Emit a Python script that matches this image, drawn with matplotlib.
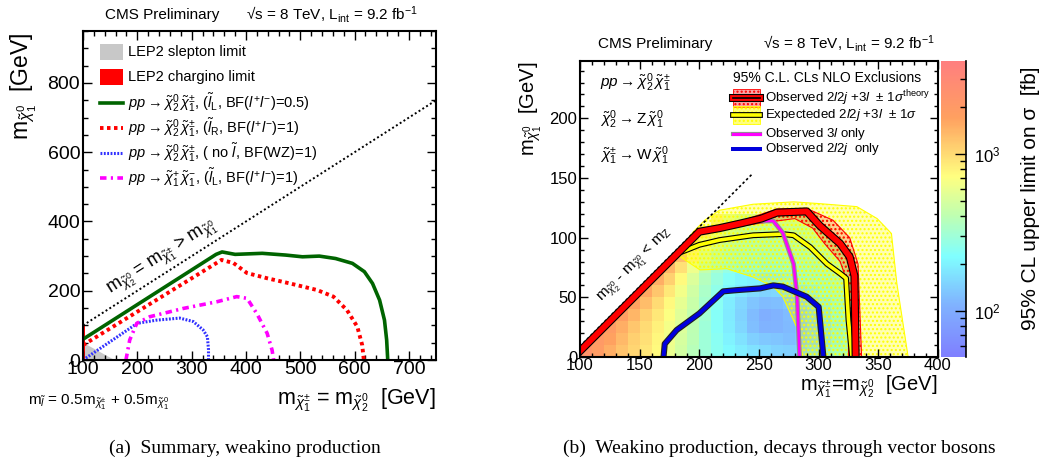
import numpy as np
import matplotlib
matplotlib.use("Agg")
import matplotlib.pyplot as plt
import matplotlib.patheffects as pe
from matplotlib.colors import LinearSegmentedColormap, LogNorm
from matplotlib.patches import Rectangle
from matplotlib.ticker import MultipleLocator, LogLocator, NullFormatter

plt.rcParams["font.family"] = ["Liberation Sans", "DejaVu Sans"]
plt.rcParams["mathtext.fontset"] = "custom"
plt.rcParams["mathtext.rm"] = "Liberation Sans"
plt.rcParams["mathtext.it"] = "Liberation Sans:italic"
plt.rcParams["mathtext.bf"] = "Liberation Sans:bold"

nan = np.nan

# ---------------- panel (a): summary ----------------
diag_x = [100, 750]
diag_y = [100, 750]

lep_slepton_x = [100, 100, 158]
lep_slepton_y = [0, 50, 0]
lep_chargino_x = [100, 103.5]
lep_chargino_top = 100

green_x = [100, 345, 356, 380, 430, 473, 504, 535, 565, 596, 618, 633, 646, 655, 659, 661]
green_y = [60, 305, 312, 305, 308, 303, 298, 300, 293, 279, 255, 221, 173, 115, 58, 0]

red_x = [100, 355, 377, 402, 439, 481, 531, 561, 586, 605, 614, 617]
red_y = [43, 289, 280, 251, 236, 221, 202, 183, 144, 96, 43, 0]

blue_x = [100, 200, 235, 278, 303, 321, 329, 331, 331]
blue_y = [0, 106, 115, 121, 111, 87, 67, 30, 0]

mag_x = [179, 186, 199, 223, 285, 346, 383, 402, 420, 439, 448, 451]
mag_y = [0, 58, 106, 125, 149, 168, 183, 178, 134, 77, 29, 0]

# ---------------- panel (b): vector boson decays ----------------
bin_x = np.arange(100, 340, 10)   # 100 ... 330 edges
bin_y = np.arange(0, 130, 10)     # 0 ... 120 edges
# 95% CL upper limit [fb], rows from y=0-10 upward, columns x=100 ... 320
limit_fb = [
    [2200, 1900, 1500, 1250, 1050, 900, 750, 600, 480, 380, 300, 250, 215, 190, 170, 160, 150, 145, 150, 170, 195, 225, 260],
    [nan, 2000, 1700, 1350, 1100, 950, 780, 620, 500, 390, 300, 245, 200, 170, 145, 135, 130, 125, 135, 150, 175, 210, 250],
    [nan, nan, 1900, 1500, 1200, 1000, 820, 650, 520, 400, 300, 235, 190, 155, 125, 110, 112, 118, 130, 150, 175, 210, 250],
    [nan, nan, nan, 1800, 1400, 1100, 880, 700, 540, 420, 310, 235, 185, 150, 120, 105, 110, 120, 135, 155, 185, 220, 260],
    [nan, nan, nan, nan, 1700, 1300, 1000, 760, 580, 440, 320, 245, 190, 155, 130, 120, 125, 135, 150, 170, 205, 240, 280],
    [nan, nan, nan, nan, nan, 1600, 1200, 880, 640, 470, 340, 260, 210, 180, 160, 150, 155, 165, 185, 205, 235, 270, 310],
    [nan, nan, nan, nan, nan, nan, 1500, 1100, 750, 520, 370, 285, 235, 205, 195, 190, 195, 205, 220, 240, 265, 300, 340],
    [nan, nan, nan, nan, nan, nan, nan, 1400, 950, 620, 420, 320, 270, 240, 225, 220, 225, 235, 250, 270, 300, 340, 380],
    [nan, nan, nan, nan, nan, nan, nan, nan, 1300, 800, 500, 370, 310, 280, 260, 255, 260, 270, 285, 305, 340, 380, 420],
    [nan, nan, nan, nan, nan, nan, nan, nan, nan, 1100, 650, 450, 360, 320, 300, 295, 300, 310, 325, 350, 390, 430, nan],
    [nan, nan, nan, nan, nan, nan, nan, nan, nan, nan, 900, 580, 440, 380, 350, 340, 345, 355, 370, 400, 440, nan, nan],
    [nan, nan, nan, nan, nan, nan, nan, nan, nan, nan, nan, 800, 560, 460, 420, 400, 400, 410, 430, 460, nan, nan, nan],
]

mz_x = [100, 245]
mz_y = [9, 154]

obs_x = [100, 200, 217, 235, 252, 265, 290, 301, 318, 326, 330, 331]
obs_y = [5, 105, 108, 112, 116, 121, 122, 110, 95, 84, 68, 0]

obs_band_x = [200, 235, 265, 290, 312, 326, 333, 336, 325, 325, 318, 305, 295, 280, 250, 200]
obs_band_y = [107, 114, 124, 124.5, 114.6, 100, 78, 0, 0, 60, 80, 95, 108, 116, 112, 104]

exp_x = [182, 190, 200, 217, 245, 270, 279, 293, 307, 318, 323, 325, 328]
exp_y = [87, 90, 94, 98, 102, 103, 102, 92, 78, 70, 66, 31, 0]

exp_band_x = [180, 195, 205, 217, 245, 279, 301, 332, 349, 361, 365.5, 375,
              287, 281.6, 270, 262, 245, 223, 200.6, 184]
exp_band_y = [86, 105, 115, 123, 128, 130, 128.5, 126, 116, 103.5, 62, 0,
              0, 25, 50.5, 59, 67, 74, 73, 84]

only3l_x = [246, 262, 270, 279, 282, 284]
only3l_y = [114, 114, 104, 78, 50, 0]

only2l_x = [170, 171, 181, 200, 220, 231, 251, 262, 270, 290, 300, 304]
only2l_y = [0, 11, 22.6, 36.5, 55, 56, 57.5, 60, 59, 50.5, 42, 0]

# ---------------------------------------------------------------
fig = plt.figure(figsize=(10.43, 4.73), dpi=100)
ax1 = fig.add_axes([0.0796, 0.2389, 0.3385, 0.6956])
ax2 = fig.add_axes([0.5561, 0.2452, 0.3432, 0.6258])
cax = fig.add_axes([0.9022, 0.2452, 0.0240, 0.6258])


def root_ticks(ax, major, minor, size, maj_len, min_len):
    ax.xaxis.set_major_locator(MultipleLocator(major[0]))
    ax.xaxis.set_minor_locator(MultipleLocator(minor[0]))
    ax.yaxis.set_major_locator(MultipleLocator(major[1]))
    ax.yaxis.set_minor_locator(MultipleLocator(minor[1]))
    ax.tick_params(which="both", direction="in", top=True, right=True, labelsize=size, width=1)
    ax.tick_params(which="major", length=maj_len)
    ax.tick_params(which="minor", length=min_len)
    ax.tick_params(axis="x", pad=1)
    ax.tick_params(axis="y", pad=2)
    for s in ax.spines.values():
        s.set_linewidth(1.5)


# ---------------- panel (a) ----------------
red_dots = (0, (0.9, 0.9))
blue_dots = (0, (0.6, 0.5))
mag_dashdot = (0, (1.8, 1.2, 0.6, 1.2))

ax1.fill(lep_slepton_x, lep_slepton_y, color="#c8c8c8", lw=0)
ax1.fill_between(lep_chargino_x, 0, lep_chargino_top, color="red", lw=0)
ax1.plot(diag_x, diag_y, color="black", lw=1.4, ls=(0, (1, 1.3)))
ax1.plot(blue_x, blue_y, color="#3030ff", lw=2.2, ls=blue_dots)
ax1.plot(mag_x, mag_y, color="magenta", lw=2.6, ls=mag_dashdot)
ax1.plot(red_x, red_y, color="red", lw=2.8, ls=red_dots)
ax1.plot(green_x, green_y, color="#006400", lw=2.6)
ax1.set_xlim(100, 750)
ax1.set_ylim(0, 950)
root_ticks(ax1, (100, 200), (20, 50), 14, 6.5, 3.5)

ax1.text(246, 294, r"m$_{\tilde{\chi}^{0}_{2}}$ = m$_{\tilde{\chi}^{\pm}_{1}}$ > m$_{\tilde{\chi}^{0}_{1}}$",
         rotation=32.6, rotation_mode="anchor", ha="center", va="center", fontsize=13)

leg_rows = [0.937, 0.861, 0.782, 0.705, 0.629, 0.553]
hx0, hx1, tx = 0.048, 0.113, 0.1275
ax1.add_patch(Rectangle((hx0, leg_rows[0] - 0.024), hx1 - hx0, 0.048, transform=ax1.transAxes,
                        color="#c8c8c8", lw=0))
ax1.add_patch(Rectangle((hx0, leg_rows[1] - 0.024), hx1 - hx0, 0.048, transform=ax1.transAxes,
                        color="red", lw=0))
ax1.plot([hx0, hx1], [leg_rows[2]] * 2, transform=ax1.transAxes, color="#006400", lw=2.6)
ax1.plot([hx0, hx1], [leg_rows[3]] * 2, transform=ax1.transAxes, color="red", lw=2.8, ls=red_dots)
ax1.plot([hx0, hx1], [leg_rows[4]] * 2, transform=ax1.transAxes, color="#3030ff", lw=2.2, ls=blue_dots)
ax1.plot([hx0, hx1], [leg_rows[5]] * 2, transform=ax1.transAxes, color="magenta", lw=2.6, ls=mag_dashdot)
leg_labels = [
    "LEP2 slepton limit",
    "LEP2 chargino limit",
    r"$pp \rightarrow \tilde{\chi}^{0}_{2}\,\tilde{\chi}^{\pm}_{1}$, ($\tilde{l}_{\rm L}$, BF($l^{+}l^{-}$)=0.5)",
    r"$pp \rightarrow \tilde{\chi}^{0}_{2}\,\tilde{\chi}^{\pm}_{1}$, ($\tilde{l}_{\rm R}$, BF($l^{+}l^{-}$)=1)",
    r"$pp \rightarrow \tilde{\chi}^{0}_{2}\,\tilde{\chi}^{\pm}_{1}$, ( no $\tilde{l}$, BF(WZ)=1)",
    r"$pp \rightarrow \tilde{\chi}^{+}_{1}\,\tilde{\chi}^{-}_{1}$, ($\tilde{l}_{\rm L}$, BF($l^{+}l^{-}$)=1)",
]
for yy, lab in zip(leg_rows, leg_labels):
    ax1.text(tx, yy, lab, transform=ax1.transAxes, ha="left", va="center", fontsize=10.5)

fig.text(105 / 1043, 1 - 15 / 473, "CMS Preliminary", ha="left", va="center", fontsize=11)
fig.text(418 / 1043, 1 - 15 / 473, r"√s = 8 TeV, L$_{\rm int}$ = 9.2 fb$^{-1}$", ha="right", va="center", fontsize=11)
fig.text(24 / 1043, 1 - 33 / 473, r"m$_{\tilde{\chi}^{0}_{1}}$  [GeV]", rotation=90, ha="center", va="top", fontsize=16.5)
fig.text(436 / 1043, 1 - 400 / 473, r"m$_{\tilde{\chi}^{\pm}_{1}}$ = m$_{\tilde{\chi}^{0}_{2}}$  [GeV]",
         ha="right", va="center", fontsize=15.5)
fig.text(28 / 1043, 1 - 402 / 473, r"m$_{\tilde{l}}$ = 0.5m$_{\tilde{\chi}^{\pm}_{1}}$ + 0.5m$_{\tilde{\chi}^{0}_{1}}$",
         ha="left", va="center", fontsize=11)

# ---------------- panel (b) ----------------
cmap = LinearSegmentedColormap.from_list(
    "pastel_rainbow",
    [(0.0, "#7f7fff"), (0.18, "#80b4ff"), (0.34, "#80ffff"), (0.48, "#c0ffb0"),
     (0.61, "#ffff80"), (0.81, "#ffa060"), (1.0, "#ff7f7f")])
norm = LogNorm(vmin=51, vmax=3900)
mesh = ax2.pcolormesh(bin_x, bin_y, np.ma.masked_invalid(np.array(limit_fb)), cmap=cmap, norm=norm)

ax2.fill(exp_band_x, exp_band_y, facecolor=(1, 1, 0, 0.3), edgecolor="yellow", hatch="....", lw=0.8)
ax2.fill(obs_band_x, obs_band_y, facecolor=(1, 0.2, 0.2, 0.25), edgecolor="red", hatch="....", lw=0.8)
ax2.plot(mz_x, mz_y, color="black", lw=1.2, ls=(0, (1.5, 1.5)))


def outlined(lw, dark="black"):
    return [pe.Stroke(linewidth=lw + 1.6, foreground=dark), pe.Normal()]


ax2.plot(exp_x, exp_y, color="yellow", lw=2.6, path_effects=outlined(2.6))
ax2.plot(only3l_x, only3l_y, color="#ff00ff", lw=1.8, path_effects=outlined(1.8, "#909090"))
ax2.plot(only2l_x, only2l_y, color="#0000e0", lw=2.8, path_effects=outlined(2.8, "#202020"))
ax2.plot(obs_x, obs_y, color="red", lw=4.2, path_effects=outlined(4.2))
ax2.set_xlim(100, 400)
ax2.set_ylim(0, 248)
root_ticks(ax2, (50, 50), (10, 10), 12, 6, 3)

ax2.text(147, 77, r"m$_{\tilde{\chi}^{0}_{2}}$ - m$_{\tilde{\chi}^{0}_{1}}$ < m$_{\rm Z}$",
         rotation=45, rotation_mode="anchor", ha="center", va="center", fontsize=11)

ax2.text(0.056, 0.926, r"$pp \rightarrow \tilde{\chi}^{0}_{2}\,\tilde{\chi}^{\pm}_{1}$", transform=ax2.transAxes,
         ha="left", va="center", fontsize=11)
ax2.text(0.056, 0.801, r"$\tilde{\chi}^{0}_{2} \rightarrow {\rm Z}\,\tilde{\chi}^{0}_{1}$", transform=ax2.transAxes,
         ha="left", va="center", fontsize=11)
ax2.text(0.056, 0.679, r"$\tilde{\chi}^{\pm}_{1} \rightarrow {\rm W}\,\tilde{\chi}^{0}_{1}$", transform=ax2.transAxes,
         ha="left", va="center", fontsize=11)

ax2.text(0.69, 0.943, "95% C.L. CLs NLO Exclusions", transform=ax2.transAxes, ha="center", va="center", fontsize=10)
rows_b = [0.875, 0.818, 0.754, 0.703]
lx0, lx1, ltx = 0.4274, 0.5028, 0.5168
ax2.add_patch(Rectangle((lx0, rows_b[0] - 0.03), lx1 - lx0, 0.06, transform=ax2.transAxes,
                        facecolor=(1, 0.3, 0.3, 0.5), edgecolor="red", hatch="....", lw=0.6))
ax2.plot([lx0, lx1], [rows_b[0]] * 2, transform=ax2.transAxes, color="red", lw=4.2, path_effects=outlined(4.2))
ax2.plot([lx0, lx1], [rows_b[0]] * 2, transform=ax2.transAxes, color="black", lw=1.2)
ax2.add_patch(Rectangle((lx0, rows_b[1] - 0.03), lx1 - lx0, 0.06, transform=ax2.transAxes,
                        facecolor=(1, 1, 0, 0.5), edgecolor="yellow", hatch="....", lw=0.6))
ax2.plot([lx0, lx1], [rows_b[1]] * 2, transform=ax2.transAxes, color="yellow", lw=2.6, path_effects=outlined(2.6))
ax2.plot([lx0, lx1], [rows_b[2]] * 2, transform=ax2.transAxes, color="#ff00ff", lw=2.2,
         path_effects=outlined(1.4, "#909090"))
ax2.plot([lx0, lx1], [rows_b[3]] * 2, transform=ax2.transAxes, color="#0000e0", lw=2.8,
         path_effects=outlined(1.2, "#202020"))
labels_b = [
    r"Observed 2$l$2$j$ +3$l$  $\pm$ 1$\sigma^{\rm theory}$",
    r"Expecteded 2$l$2$j$ +3$l$  $\pm$ 1$\sigma$",
    r"Observed 3$l$ only",
    r"Observed 2$l$2$j$  only",
]
for yy, lab in zip(rows_b, labels_b):
    ax2.text(ltx, yy, lab, transform=ax2.transAxes, ha="left", va="center", fontsize=9.5)

fig.text(598 / 1043, 1 - 44 / 473, "CMS Preliminary", ha="left", va="center", fontsize=11)
fig.text(935 / 1043, 1 - 44 / 473, r"√s = 8 TeV, L$_{\rm int}$ = 9.2 fb$^{-1}$", ha="right", va="center", fontsize=11)
fig.text(531 / 1043, 1 - 62 / 473, r"m$_{\tilde{\chi}^{0}_{1}}$  [GeV]", rotation=90, ha="center", va="top", fontsize=14.5)
fig.text(937 / 1043, 1 - 387 / 473, r"m$_{\tilde{\chi}^{\pm}_{1}}$=m$_{\tilde{\chi}^{0}_{2}}$  [GeV]",
         ha="right", va="center", fontsize=14.5)

cb = fig.colorbar(mesh, cax=cax)
cb.outline.set_visible(False)
cax.yaxis.set_ticks_position("right")
cax.yaxis.set_major_locator(LogLocator(base=10))
cax.yaxis.set_minor_locator(LogLocator(base=10, subs=np.arange(2, 10)))
cax.yaxis.set_minor_formatter(NullFormatter())
cax.tick_params(which="both", direction="in", labelsize=12, width=1, pad=6)
cax.tick_params(which="major", length=8)
cax.tick_params(which="minor", length=4)
cax.plot([1, 1], [0, 1], transform=cax.transAxes, color="black", lw=1.2, clip_on=False)
fig.text(1030 / 1043, 1 - 66 / 473, "95% CL upper limit on σ  [fb]", rotation=90,
         ha="center", va="top", fontsize=15)

# captions
fig.text(245 / 1043, 1 - 448 / 473, "(a)  Summary, weakino production", ha="center", va="center",
         fontsize=14, family="Liberation Serif")
fig.text(779 / 1043, 1 - 448 / 473, "(b)  Weakino production, decays through vector bosons", ha="center",
         va="center", fontsize=14, family="Liberation Serif")

fig.savefig("out.png", dpi=100)
